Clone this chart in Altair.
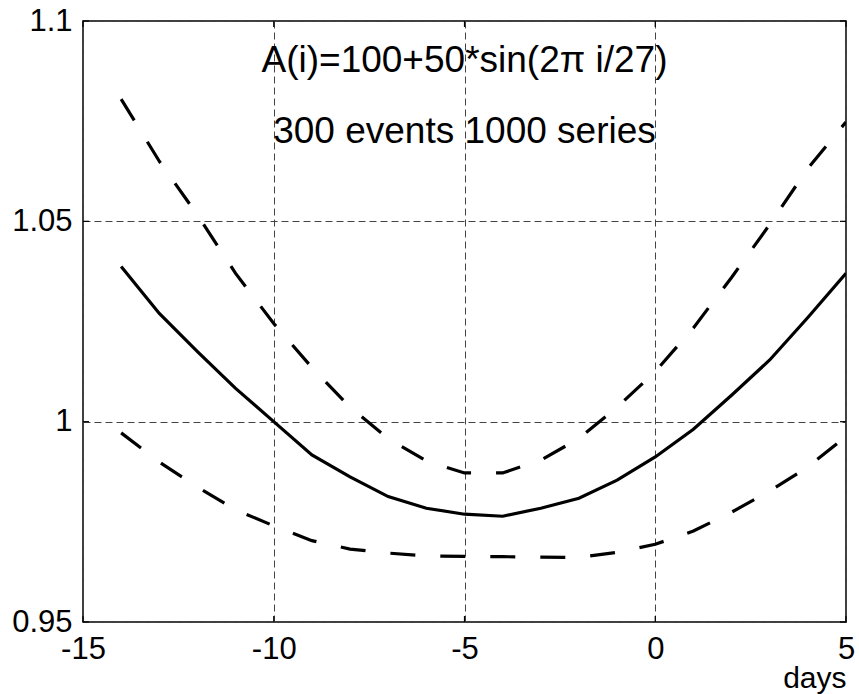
import altair as alt
import pandas as pd

days = list(range(-14, 6))
mean_vals = [1.0387, 1.0270, 1.0175, 1.0083, 1.0000, 0.9917, 0.9862, 0.9813,
             0.9784, 0.9769, 0.9764, 0.9784, 0.9809, 0.9854, 0.9912, 0.9981,
             1.0066, 1.0154, 1.0260, 1.0370]
upper_vals = [1.0805, 1.0650, 1.0516, 1.0370, 1.0245, 1.0135, 1.0036, 0.9958,
              0.9902, 0.9872, 0.9872, 0.9904, 0.9958, 1.0036, 1.0125, 1.0234,
              1.0360, 1.0492, 1.0632, 1.0748]
lower_vals = [0.9972, 0.9899, 0.9837, 0.9780, 0.9740, 0.9703, 0.9682, 0.9672,
              0.9665, 0.9664, 0.9663, 0.9662, 0.9661, 0.9674, 0.9694, 0.9727,
              0.9774, 0.9827, 0.9887, 0.9963]

x_ticks = [-15, -10, -5, 0, 5]
y_ticks = [0.95, 1.0, 1.05, 1.1]
annot_text = ["A(i)=100+50*sin(2π i/27)", "300 events 1000 series"]
annot_x = [-5, -5]
annot_y = [1.0873, 1.0695]

FONT = "Liberation Sans"
W, H = 763, 601
TICK = 6

mean_df = pd.DataFrame({"day": days, "value": mean_vals})
band_df = pd.concat([
    pd.DataFrame({"day": days, "value": upper_vals, "band": "upper"}),
    pd.DataFrame({"day": days, "value": lower_vals, "band": "lower"}),
])
annot_df = pd.DataFrame({"x": annot_x, "y": annot_y, "t": annot_text})
xt_df = pd.DataFrame({"xt": x_ticks})
yt_df = pd.DataFrame({"yt": y_ticks})

x_scale = alt.Scale(domain=[-15, 5], nice=False, zero=False)
y_scale = alt.Scale(domain=[0.95, 1.1], nice=False, zero=False)

x_axis = alt.Axis(
    values=x_ticks, labelExpr="datum.value + ''", grid=True, gridDash=[7, 4],
    gridColor="#444444", gridWidth=1, gridOpacity=1, ticks=False, domain=False,
    labelFont=FONT, labelFontSize=31, labelColor="black", labelPadding=12,
    labelFlush=False, labelOverlap=False, labelBound=False,
    title="days", titleFont=FONT, titleFontSize=30, titleFontWeight="normal",
    titleColor="black", titleAlign="right", titleAnchor="end",
    titleBaseline="alphabetic", titleX=W, titleY=65,
)
y_axis = alt.Axis(
    values=y_ticks, labelExpr="datum.value + ''", grid=True, gridDash=[7, 4],
    gridColor="#444444", gridWidth=1, gridOpacity=1, ticks=False, domain=False,
    labelFont=FONT, labelFontSize=31, labelColor="black", labelPadding=11,
    labelFlush=False, labelOverlap=False, labelBound=False, title=None,
)

base_x = alt.X("day:Q", scale=x_scale, axis=x_axis)
base_y = alt.Y("value:Q", scale=y_scale, axis=y_axis)

mean_line = alt.Chart(mean_df).mark_line(
    color="black", strokeWidth=3.2, strokeCap="butt", strokeJoin="miter", clip=True
).encode(x=base_x, y=base_y)

band_lines = alt.Chart(band_df).mark_line(
    color="black", strokeWidth=3.2, strokeDash=[25, 25], strokeCap="butt", clip=True
).encode(
    x=alt.X("day:Q", scale=x_scale),
    y=alt.Y("value:Q", scale=y_scale),
    detail="band:N",
)

# inward tick marks on all four sides (box style)
tick_style = dict(color="black", strokeWidth=1.2)
xt_bottom = alt.Chart(xt_df).mark_rule(**tick_style).encode(
    x=alt.X("xt:Q", scale=x_scale), y=alt.value(H), y2=alt.value(H - TICK))
xt_top = alt.Chart(xt_df).mark_rule(**tick_style).encode(
    x=alt.X("xt:Q", scale=x_scale), y=alt.value(0), y2=alt.value(TICK))
yt_left = alt.Chart(yt_df).mark_rule(**tick_style).encode(
    y=alt.Y("yt:Q", scale=y_scale), x=alt.value(0), x2=alt.value(TICK))
yt_right = alt.Chart(yt_df).mark_rule(**tick_style).encode(
    y=alt.Y("yt:Q", scale=y_scale), x=alt.value(W - TICK), x2=alt.value(W))

annot = alt.Chart(annot_df).mark_text(
    font=FONT, fontSize=37, color="black", align="center", baseline="alphabetic"
).encode(
    x=alt.X("x:Q", scale=x_scale),
    y=alt.Y("y:Q", scale=y_scale),
    text="t:N",
)

chart = alt.layer(
    mean_line, band_lines, xt_bottom, xt_top, yt_left, yt_right, annot
).properties(
    width=W, height=H,
    autosize=alt.AutoSizeParams(type="none"),
    padding={"left": 83, "top": 21, "right": 13, "bottom": 72},
    background="white",
).configure_view(
    stroke="black", strokeWidth=1.5
)

chart.save("out.html", embed_options={"renderer": "svg", "actions": False})
